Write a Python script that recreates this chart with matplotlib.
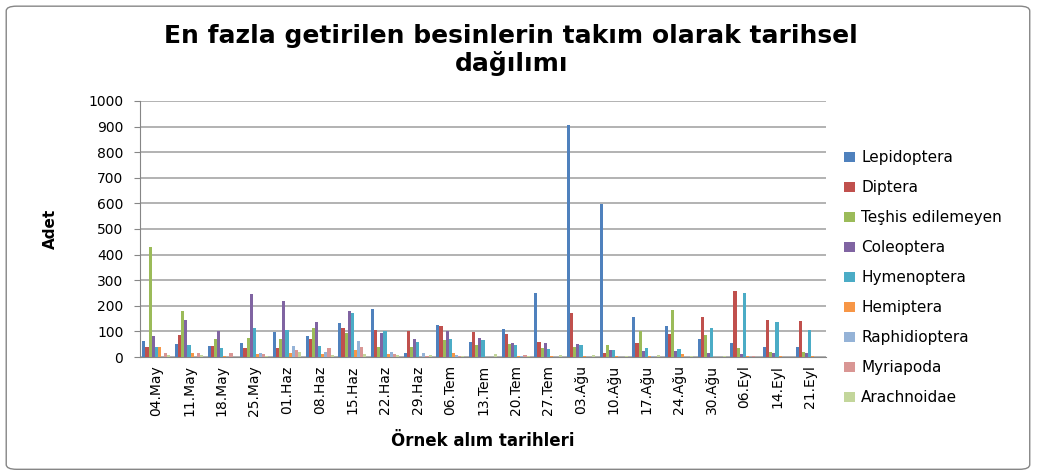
import matplotlib
matplotlib.use("Agg")
import matplotlib.pyplot as plt
import numpy as np
from matplotlib.patches import FancyBboxPatch

dates = ["04.May", "11.May", "18.May", "25.May", "01.Haz", "08.Haz", "15.Haz",
         "22.Haz", "29.Haz", "06.Tem", "13.Tem", "20.Tem", "27.Tem", "03.Ağu",
         "10.Ağu", "17.Ağu", "24.Ağu", "30.Ağu", "06.Eyl", "14.Eyl", "21.Eyl"]

lepidoptera   = [62, 51, 42, 56, 96, 81, 133, 188, 16, 125, 60, 109, 249, 905, 598, 158, 121, 72, 53, 38, 38]
diptera       = [40, 86, 42, 36, 36, 72, 112, 105, 102, 121, 96, 90, 60, 172, 17, 53, 90, 158, 258, 145, 141]
teshis        = [430, 180, 70, 74, 70, 112, 94, 38, 38, 66, 47, 51, 35, 38, 47, 102, 182, 85, 35, 20, 20]
coleoptera    = [81, 145, 101, 246, 219, 137, 180, 95, 70, 101, 74, 53, 53, 51, 27, 22, 22, 14, 10, 14, 17]
hymenoptera   = [40, 47, 36, 115, 107, 44, 173, 102, 60, 72, 66, 47, 33, 47, 27, 35, 33, 112, 249, 137, 105]
hemiptera     = [40, 17, 4, 10, 17, 12, 26, 10, 0, 16, 0, 3, 3, 4, 4, 4, 12, 0, 4, 4, 4]
raphidioptera = [0, 0, 0, 14, 42, 20, 62, 20, 16, 6, 0, 5, 0, 0, 0, 4, 0, 0, 0, 0, 0]
myriapoda     = [16, 14, 14, 12, 27, 35, 38, 12, 4, 4, 0, 6, 0, 0, 0, 0, 0, 0, 4, 0, 0]
arachnoidae   = [7, 8, 0, 4, 20, 8, 12, 8, 8, 4, 12, 5, 6, 8, 4, 8, 4, 4, 0, 0, 0]

series_names = ["Lepidoptera", "Diptera", "Teşhis edilemeyen", "Coleoptera", "Hymenoptera",
                "Hemiptera", "Raphidioptera", "Myriapoda", "Arachnoidae"]
series_values = [lepidoptera, diptera, teshis, coleoptera, hymenoptera,
                 hemiptera, raphidioptera, myriapoda, arachnoidae]
colors = ["#4F81BD", "#C0504D", "#9BBB59", "#8064A2", "#4BACC6",
          "#F79646", "#95B3D7", "#D99694", "#C3D69B"]

plt.rcParams['font.family'] = ['DejaVu Sans']

fig = plt.figure(figsize=(10.37, 4.75), dpi=100)
ax = fig.add_axes([0.135, 0.2484, 0.6615, 0.539])

x = np.arange(len(dates))
n = len(series_names)
bw = 0.095
for i, (name, vals, c) in enumerate(zip(series_names, series_values, colors)):
    ax.bar(x + (i - (n - 1) / 2) * bw, vals, width=bw, color=c, label=name,
           edgecolor='none', zorder=3)

ax.set_xlim(-0.5, len(dates) - 0.5)
ax.set_ylim(0, 1000)
ax.set_yticks(np.arange(0, 1001, 100))
ax.yaxis.grid(True, color='#A6A6A6', linewidth=1.2, zorder=0)
ax.set_axisbelow(True)
for s in ['top', 'right']:
    ax.spines[s].set_visible(False)
ax.spines['left'].set_color('#868686')
ax.spines['bottom'].set_color('#868686')
ax.tick_params(axis='y', colors='#868686', labelcolor='black', labelsize=10, length=4, pad=8)
ax.tick_params(axis='x', length=0, labelsize=10, pad=6)
ax.set_xticks(x)
ax.set_xticklabels(dates, rotation=90)

ax.set_ylabel("Adet", fontsize=11, fontweight='bold', labelpad=22)
ax.set_xlabel("Örnek alım tarihleri", fontsize=12, fontweight='bold', labelpad=11)

fig.text(0.493, 0.895, "En fazla getirilen besinlerin takım olarak tarihsel\ndağılımı",
         ha='center', va='center', fontsize=18, fontweight='bold', linespacing=1.15)

leg = ax.legend(loc='center left', frameon=False,
                fontsize=11, handlelength=0.7, handleheight=0.7, handletextpad=0.4,
                labelspacing=0.98)
leg.set_bbox_to_anchor((0.801, 0.415), transform=fig.transFigure)

border = FancyBboxPatch((0.006, 0.012), 0.987, 0.975, boxstyle="round,pad=0,rounding_size=0.01",
                        transform=fig.transFigure, fill=False, edgecolor='#868686', linewidth=1.0)
fig.patches.append(border)

fig.savefig("out.png", dpi=100)
